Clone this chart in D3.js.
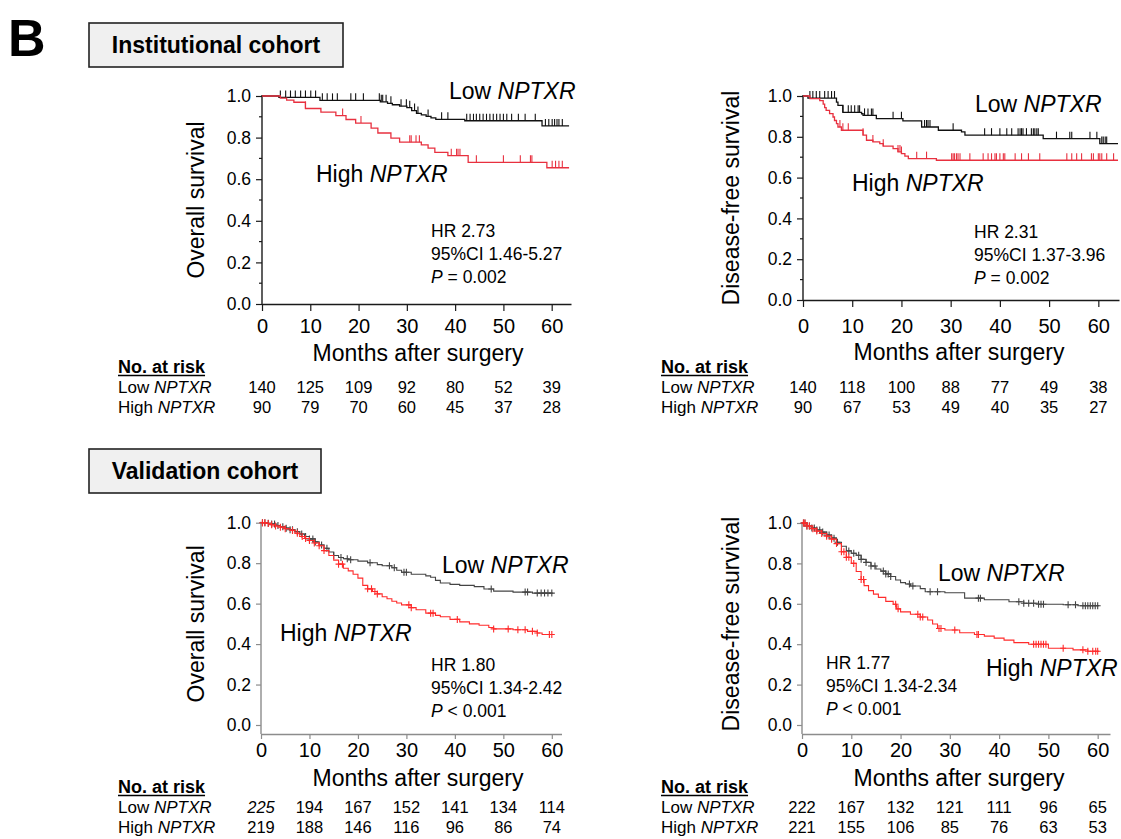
<!DOCTYPE html>
<html>
<head>
<meta charset="utf-8">
<script src="https://cdn.jsdelivr.net/npm/d3@7"></script>
<style>
  body { margin: 0; background: #fff; }
  svg { display: block; font-family: "Liberation Sans", Arial, Helvetica, sans-serif; }
</style>
</head>
<body>
<div id="chart"></div>
<script>
// tick values
var monthTicks = [0, 10, 20, 30, 40, 50, 60];
var survTicks = [0, 0.2, 0.4, 0.6, 0.8, 1.0];

// ---- Institutional cohort, overall survival ----
var osInstLowT = [0, 3.5, 12, 24.5, 26, 27, 28.5, 30, 31, 32, 33, 34, 35, 36, 42, 58];
var osInstLowS = [1, 0.993, 0.979, 0.972, 0.965, 0.958, 0.951, 0.944, 0.93, 0.916, 0.909, 0.902, 0.895, 0.888, 0.881, 0.856];
var osInstLowCens = [3.8, 4.9, 5.9, 6.9, 8.0, 9.0, 10.1, 11.1, 12.5, 13.5, 14.6, 15.6, 18.4, 19.4, 21.0, 24.3, 24.7, 25.0, 25.7, 26.7, 28.8, 29.9, 30.6, 31.6, 32.3, 34.4, 37.2, 38.5, 42.4, 43.1, 43.8, 44.4, 45.1, 45.8, 46.5, 47.2, 47.9, 48.6, 49.3, 50.0, 50.7, 51.7, 53.1, 54.5, 56.6, 58.7, 59.4, 60.1, 60.6, 61.1, 61.5, 62.2];
var osInstHighT = [0, 3.8, 5.1, 6.6, 9.0, 12.2, 15.3, 17.4, 19.4, 22.6, 24.0, 26.7, 28.5, 33.0, 34.4, 35.8, 38.5, 42.7, 59.0];
var osInstHighS = [1, 0.99, 0.98, 0.97, 0.94, 0.922, 0.906, 0.887, 0.87, 0.846, 0.822, 0.797, 0.778, 0.765, 0.749, 0.729, 0.713, 0.681, 0.655];
var osInstHighCens = [9.0, 16.7, 20.5, 30.6, 30.9, 31.9, 32.6, 39.2, 40.3, 40.6, 41.0, 44.4, 50.0, 53.5, 55.6, 55.9, 60.1, 60.8, 61.5, 62.2];
var osInstRiskLow = [140, 125, 109, 92, 80, 52, 39];
var osInstRiskHigh = [90, 79, 70, 60, 45, 37, 28];

// ---- Institutional cohort, disease-free survival ----
var dfsInstLowT = [0, 1.0, 6.8, 7.1, 8.1, 11.9, 12.2, 14.9, 20.3, 24.1, 27.5, 32.2, 32.9, 48.8, 60.3];
var dfsInstLowS = [1, 0.99, 0.97, 0.954, 0.92, 0.913, 0.905, 0.889, 0.878, 0.848, 0.832, 0.824, 0.808, 0.791, 0.767];
var dfsInstLowCens = [1.4, 2.0, 2.7, 3.4, 4.4, 5.1, 5.8, 6.4, 8.1, 9.2, 9.8, 10.5, 11.2, 11.5, 12.5, 13.2, 13.9, 14.2, 18.3, 20.0, 24.7, 25.1, 25.4, 25.8, 30.5, 36.9, 38.3, 40.0, 41.4, 42.4, 43.7, 44.1, 44.4, 44.7, 45.4, 46.4, 46.8, 47.1, 47.5, 47.8, 51.5, 54.2, 54.6, 58.3, 59.7, 60.7, 61.0, 61.4, 61.7];
var dfsInstHighT = [0, 1.4, 3.4, 4.1, 4.4, 4.7, 5.4, 6.1, 6.4, 6.8, 7.1, 7.8, 12.2, 12.9, 14.2, 15.6, 16.3, 18.3, 19.3, 20.0, 20.7, 21.4, 27.1];
var dfsInstHighS = [1, 0.987, 0.977, 0.96, 0.943, 0.93, 0.914, 0.897, 0.88, 0.865, 0.848, 0.832, 0.808, 0.783, 0.775, 0.767, 0.754, 0.742, 0.726, 0.718, 0.705, 0.693, 0.685];
var dfsInstHighCens = [7.5, 8.1, 9.2, 12.2, 14.2, 16.3, 19.3, 19.7, 20.0, 23.1, 25.1, 30.2, 30.5, 30.8, 31.2, 31.5, 31.9, 33.9, 36.6, 37.6, 38.3, 39.0, 39.3, 40.0, 40.7, 41.0, 43.1, 44.4, 45.8, 48.1, 53.6, 54.6, 55.6, 56.6, 58.6, 59.0, 60.0, 60.3, 60.7, 61.7, 63.1];
var dfsInstRiskLow = [140, 118, 100, 88, 77, 49, 38];
var dfsInstRiskHigh = [90, 67, 53, 49, 40, 35, 27];

// ---- Validation cohort, overall survival ----
var osValLowT = [0, 1, 2, 3, 4, 5, 6, 7, 8, 9, 10, 11, 12, 13, 14, 15, 16, 17, 18, 20, 22, 24, 25, 27, 28, 29, 31, 34, 35, 36, 37, 39, 41, 44, 46, 48, 52, 56];
var osValLowS = [1, 0.997, 0.993, 0.986, 0.98, 0.973, 0.965, 0.955, 0.944, 0.932, 0.92, 0.905, 0.89, 0.874, 0.855, 0.838, 0.828, 0.822, 0.817, 0.81, 0.802, 0.793, 0.787, 0.777, 0.765, 0.755, 0.745, 0.737, 0.73, 0.715, 0.702, 0.695, 0.69, 0.684, 0.672, 0.662, 0.657, 0.652];
var osValLowCens = [0.3, 0.8, 1.5, 2.2, 2.8, 3.5, 4.5, 5.2, 6.0, 6.5, 7.5, 8.4, 9.2, 10, 10.7, 11.2, 12.5, 13.6, 15, 16.5, 17.8, 18.5, 22.5, 26.5, 27.5, 29.5, 30, 47.5, 54.5, 55, 57, 57.8, 58.5, 59.2, 60];
var osValHighT = [0, 1, 2, 3, 4, 5, 6, 7, 8, 9, 10, 11, 12, 13, 14, 15, 16, 17, 18, 19, 20, 21, 22, 23, 24, 25, 26, 27, 28, 29, 31, 32, 34, 36, 37, 39, 41, 43, 45, 47, 48, 52, 55, 57, 58];
var osValHighS = [1, 0.996, 0.99, 0.984, 0.978, 0.97, 0.962, 0.948, 0.932, 0.922, 0.912, 0.9, 0.886, 0.862, 0.838, 0.815, 0.795, 0.775, 0.762, 0.745, 0.726, 0.69, 0.673, 0.66, 0.648, 0.634, 0.624, 0.612, 0.603, 0.594, 0.58, 0.57, 0.553, 0.542, 0.535, 0.522, 0.51, 0.5, 0.493, 0.482, 0.475, 0.471, 0.463, 0.455, 0.447];
var osValHighCens = [0.3, 0.8, 1.5, 2.2, 3, 4, 5, 6.5, 7.5, 8.5, 9.2, 10, 11, 12, 13, 16, 16.8, 22, 22.8, 23.5, 24, 30.5, 31, 35, 35.5, 40.5, 48, 51, 53, 54.5, 56, 57, 59.5, 60];
var osValRiskLow = [225, 194, 167, 152, 141, 134, 114];
var osValRiskHigh = [219, 188, 146, 116, 96, 86, 74];

// ---- Validation cohort, disease-free survival ----
var dfsValLowT = [0, 1, 2, 3, 4, 5, 6, 7, 8, 9, 10, 11, 12, 13, 14, 15, 16, 17, 18, 19, 20, 21, 22, 24, 25, 29, 33, 37, 42, 45, 48, 53, 56];
var dfsValLowS = [1, 0.985, 0.975, 0.965, 0.955, 0.94, 0.925, 0.905, 0.885, 0.862, 0.85, 0.84, 0.82, 0.805, 0.787, 0.772, 0.762, 0.748, 0.735, 0.718, 0.705, 0.698, 0.688, 0.675, 0.66, 0.655, 0.628, 0.62, 0.61, 0.603, 0.598, 0.595, 0.59];
var dfsValLowCens = [0.3, 0.6, 1, 1.5, 2, 2.5, 3, 3.6, 4.2, 5, 5.5, 6, 6.5, 7.2, 9.5, 10.5, 11.5, 12, 13, 14, 14.8, 16.5, 17, 17.5, 18, 21.8, 22.5, 26, 27.5, 35.8, 36.2, 44, 45, 46, 47, 48, 48.5, 49, 54, 55.5, 57, 57.5, 58, 58.5, 59, 59.5, 60];
var dfsValHighT = [0, 1, 2, 3, 4, 5, 6, 7, 8, 9, 10, 11, 12, 12.6, 13.5, 14.5, 15.5, 17, 18.5, 19.2, 20, 22, 24, 25.5, 26.5, 27.5, 29, 32, 35, 37, 39, 41, 43, 46, 50, 55, 58];
var dfsValHighS = [1, 0.985, 0.972, 0.96, 0.948, 0.935, 0.92, 0.898, 0.858, 0.83, 0.8, 0.76, 0.72, 0.69, 0.665, 0.648, 0.632, 0.612, 0.598, 0.575, 0.56, 0.548, 0.535, 0.52, 0.5, 0.478, 0.47, 0.457, 0.448, 0.44, 0.43, 0.42, 0.408, 0.4, 0.38, 0.372, 0.365];
var dfsValHighCens = [0.3, 0.6, 1, 1.5, 2.2, 3, 4, 5, 6, 7, 8, 8.5, 9, 9.5, 10.5, 12, 12.5, 19, 19.5, 23.5, 24, 24.5, 27.8, 28.2, 31, 35.5, 35.8, 47, 47.5, 48, 48.5, 49, 49.5, 53, 57, 58, 59, 59.6, 60];
var dfsValRiskLow = [222, 167, 132, 121, 111, 96, 65];
var dfsValRiskHigh = [221, 155, 106, 85, 76, 63, 53];

var W = 1121, H = 839;

var svg = d3.select("#chart")
  .append("svg")
    .attr("width", W)
    .attr("height", H);

// text with italic parts
function richText(g, x, y, parts, size, weight) {
  var t = g.append("text")
    .attr("x", x)
    .attr("y", y)
    .attr("font-size", size)
    .attr("font-weight", weight || null)
    .attr("fill", "#000");
  parts.forEach(function(p) {
    t.append("tspan")
      .attr("font-style", p[1] ? "italic" : null)
      .text(p[0]);
  });
  return t;
}

var instStyle = { axis: "#1a1a1a", low: "#111", high: "#e8303f", lw: 1.3, tick: 6, xTick: 7, minor: true, mark: "tick" };
var valStyle  = { axis: "#8c8c8c", low: "#444", high: "#ff2b2b", lw: 1.1, tick: 5, xTick: 5, minor: false, mark: "plus" };

function drawPanel(p) {
  var st = p.style;
  var g = svg.append("g");

  var x = d3.scaleLinear().domain([0, p.xMax]).range([p.x0, p.x1]);
  var y = d3.scaleLinear().domain([0, 1]).range([p.y0, p.y1]);

  // y axis
  var ya = g.append("g")
    .attr("transform", "translate(" + p.x0 + ",0)")
    .call(d3.axisLeft(y).tickValues(survTicks).tickFormat(d3.format(".1f"))
      .tickSize(st.tick).tickSizeOuter(0).tickPadding(5));
  ya.select(".domain").remove();
  ya.attr("font-family", null).attr("font-size", 17.5);
  ya.selectAll("line").attr("stroke", st.axis).attr("stroke-width", 1.2);
  ya.selectAll("text").attr("fill", "#000");
  if (st.minor) {
    g.selectAll(".minor")
      .data([0.1, 0.3, 0.5, 0.7, 0.9])
      .enter()
      .append("line")
        .attr("x1", p.x0 - 3).attr("x2", p.x0)
        .attr("y1", function(d) { return y(d); })
        .attr("y2", function(d) { return y(d); })
        .attr("stroke", st.axis).attr("stroke-width", 1.2);
  }
  g.append("line")
    .attr("x1", p.x0).attr("x2", p.x0)
    .attr("y1", y(1) - 1).attr("y2", p.axisY)
    .attr("stroke", st.axis).attr("stroke-width", 1.4);

  // x axis
  var xa = g.append("g")
    .attr("transform", "translate(0," + p.axisY + ")")
    .call(d3.axisBottom(x).tickValues(monthTicks)
      .tickSize(st.xTick).tickSizeOuter(0).tickPadding(p.xPad));
  xa.attr("font-family", null).attr("font-size", 20);
  xa.select(".domain").attr("stroke", st.axis).attr("stroke-width", 1.4);
  xa.selectAll("line").attr("stroke", st.axis).attr("stroke-width", 1.2);
  xa.selectAll("text").attr("fill", "#000");

  // axis titles
  g.append("text")
    .attr("transform", "translate(" + p.yTitleX + "," + ((p.y0 + p.y1) / 2) + ") rotate(-90)")
    .attr("text-anchor", "middle")
    .attr("font-size", 23)
    .attr("dy", "0.35em")
    .text(p.yTitle);
  g.append("text")
    .attr("x", p.xTitleX)
    .attr("y", p.xTitleY)
    .attr("text-anchor", "middle")
    .attr("font-size", 23)
    .text("Months after surgery");

  // curves
  var line = d3.line()
    .x(function(d) { return x(d[0]); })
    .y(function(d) { return y(d[1]); })
    .curve(d3.curveStepAfter);

  [[p.lowT, p.lowS, p.lowC, st.low], [p.highT, p.highS, p.highC, st.high]].forEach(function(c) {
    var T = c[0], S = c[1], C = c[2], col = c[3];
    var pts = T.map(function(t, i) { return [t, S[i]]; });
    pts.push([p.end, S[S.length - 1]]);
    g.append("path")
      .attr("d", line(pts))
      .attr("fill", "none")
      .attr("stroke", col)
      .attr("stroke-width", st.lw);

    var sAt = function(t) { return S[Math.max(0, d3.bisectRight(T, t) - 1)]; };
    g.selectAll(null)
      .data(C)
      .enter()
      .append("path")
        .attr("d", function(d) {
          var cx = x(d), cy = y(sAt(d));
          if (st.mark === "tick") return "M" + cx + "," + cy + "V" + (cy - 7);
          return "M" + cx + "," + (cy - 3.5) + "V" + (cy + 3.5) + "M" + (cx - 3) + "," + cy + "H" + (cx + 3);
        })
        .attr("stroke", col)
        .attr("stroke-width", 1.1)
        .attr("fill", "none");
  });

  // group labels
  richText(g, p.lowLab[0], p.lowLab[1], [["Low ", false], ["NPTXR", true]], 23);
  richText(g, p.highLab[0], p.highLab[1], [["High ", false], ["NPTXR", true]], 23);

  // stats
  richText(g, p.stat[0], p.stat[1], [["HR " + p.hr, false]], 17.5);
  richText(g, p.stat[0], p.stat[1] + 23, [["95%CI " + p.ci, false]], 17.5);
  richText(g, p.stat[0], p.stat[1] + 46, [["P", true], [" " + p.pval, false]], 17.5);

  // number at risk table
  var hdr = g.append("text")
    .attr("x", p.tabX)
    .attr("y", p.tabY)
    .attr("font-size", 18)
    .attr("font-weight", "bold")
    .text("No. at risk");
  var hw = hdr.node().getComputedTextLength();
  g.append("line")
    .attr("x1", p.tabX).attr("x2", p.tabX + hw)
    .attr("y1", p.tabY + 2.5).attr("y2", p.tabY + 2.5)
    .attr("stroke", "#000").attr("stroke-width", 1.5);

  [[p.riskLow, "Low ", p.tabY + 20], [p.riskHigh, "High ", p.tabY + 40]].forEach(function(r, ri) {
    richText(g, p.tabX, r[2], [[r[1], false], ["NPTXR", true]], 17);
    g.selectAll(null)
      .data(r[0])
      .enter()
      .append("text")
        .attr("x", function(d, i) { return x(monthTicks[i]); })
        .attr("y", r[2])
        .attr("text-anchor", "middle")
        .attr("font-size", 16.5)
        .attr("font-style", function(d, i) { return (p.italicCell && p.italicCell[0] === ri && p.italicCell[1] === i) ? "italic" : null; })
        .text(function(d) { return d; });
  });
}

// panel B label
svg.append("text")
  .attr("x", 8).attr("y", 56)
  .attr("font-size", 52)
  .attr("font-weight", "bold")
  .text("B");

// cohort boxes
function cohortBox(x, y, w, h, label) {
  svg.append("rect")
    .attr("x", x).attr("y", y).attr("width", w).attr("height", h)
    .attr("fill", "#f0f0f0").attr("stroke", "#222").attr("stroke-width", 1.6);
  svg.append("text")
    .attr("x", x + w / 2).attr("y", y + h / 2)
    .attr("dy", "0.35em")
    .attr("text-anchor", "middle")
    .attr("font-size", 23)
    .attr("font-weight", "bold")
    .text(label);
}
cohortBox(89, 23, 254, 44, "Institutional cohort");
cohortBox(89, 449, 232, 44, "Validation cohort");

drawPanel({
  style: instStyle, x0: 262, x1: 571, xMax: 64, y0: 304, y1: 96, axisY: 304, xPad: 8, end: 63.6,
  yTitle: "Overall survival", yTitleX: 196, xTitleX: 418, xTitleY: 361,
  lowT: osInstLowT, lowS: osInstLowS, lowC: osInstLowCens,
  highT: osInstHighT, highS: osInstHighS, highC: osInstHighCens,
  lowLab: [449, 99], highLab: [316, 182],
  stat: [431, 237], hr: "2.73", ci: "1.46-5.27", pval: "= 0.002",
  tabX: 118, tabY: 373, riskLow: osInstRiskLow, riskHigh: osInstRiskHigh
});

drawPanel({
  style: instStyle, x0: 803, x1: 1119, xMax: 64.2, y0: 300, y1: 96, axisY: 300, xPad: 12, end: 64,
  yTitle: "Disease-free survival", yTitleX: 731, xTitleX: 959, xTitleY: 360,
  lowT: dfsInstLowT, lowS: dfsInstLowS, lowC: dfsInstLowCens,
  highT: dfsInstHighT, highS: dfsInstHighS, highC: dfsInstHighCens,
  lowLab: [975, 112], highLab: [852, 191],
  stat: [974, 238], hr: "2.31", ci: "1.37-3.96", pval: "= 0.002",
  tabX: 661, tabY: 373, riskLow: dfsInstRiskLow, riskHigh: dfsInstRiskHigh
});

drawPanel({
  style: valStyle, x0: 261, x1: 561.5, xMax: 62, y0: 725, y1: 522.7, axisY: 734, xPad: 4, end: 60.2,
  yTitle: "Overall survival", yTitleX: 196, xTitleX: 418, xTitleY: 786,
  lowT: osValLowT, lowS: osValLowS, lowC: osValLowCens,
  highT: osValHighT, highS: osValHighS, highC: osValHighCens,
  lowLab: [442, 573], highLab: [280, 641],
  stat: [431, 671], hr: "1.80", ci: "1.34-2.42", pval: "< 0.001",
  tabX: 118, tabY: 793, riskLow: osValRiskLow, riskHigh: osValRiskHigh, italicCell: [0, 0]
});

drawPanel({
  style: valStyle, x0: 802, x1: 1110, xMax: 62.5, y0: 725, y1: 523, axisY: 734, xPad: 4, end: 60.3,
  yTitle: "Disease-free survival", yTitleX: 731, xTitleX: 959, xTitleY: 786,
  lowT: dfsValLowT, lowS: dfsValLowS, lowC: dfsValLowCens,
  highT: dfsValHighT, highS: dfsValHighS, highC: dfsValHighCens,
  lowLab: [938, 581], highLab: [986, 676],
  stat: [826, 669], hr: "1.77", ci: "1.34-2.34", pval: "< 0.001",
  tabX: 661, tabY: 793, riskLow: dfsValRiskLow, riskHigh: dfsValRiskHigh
});
</script>
</body>
</html>
